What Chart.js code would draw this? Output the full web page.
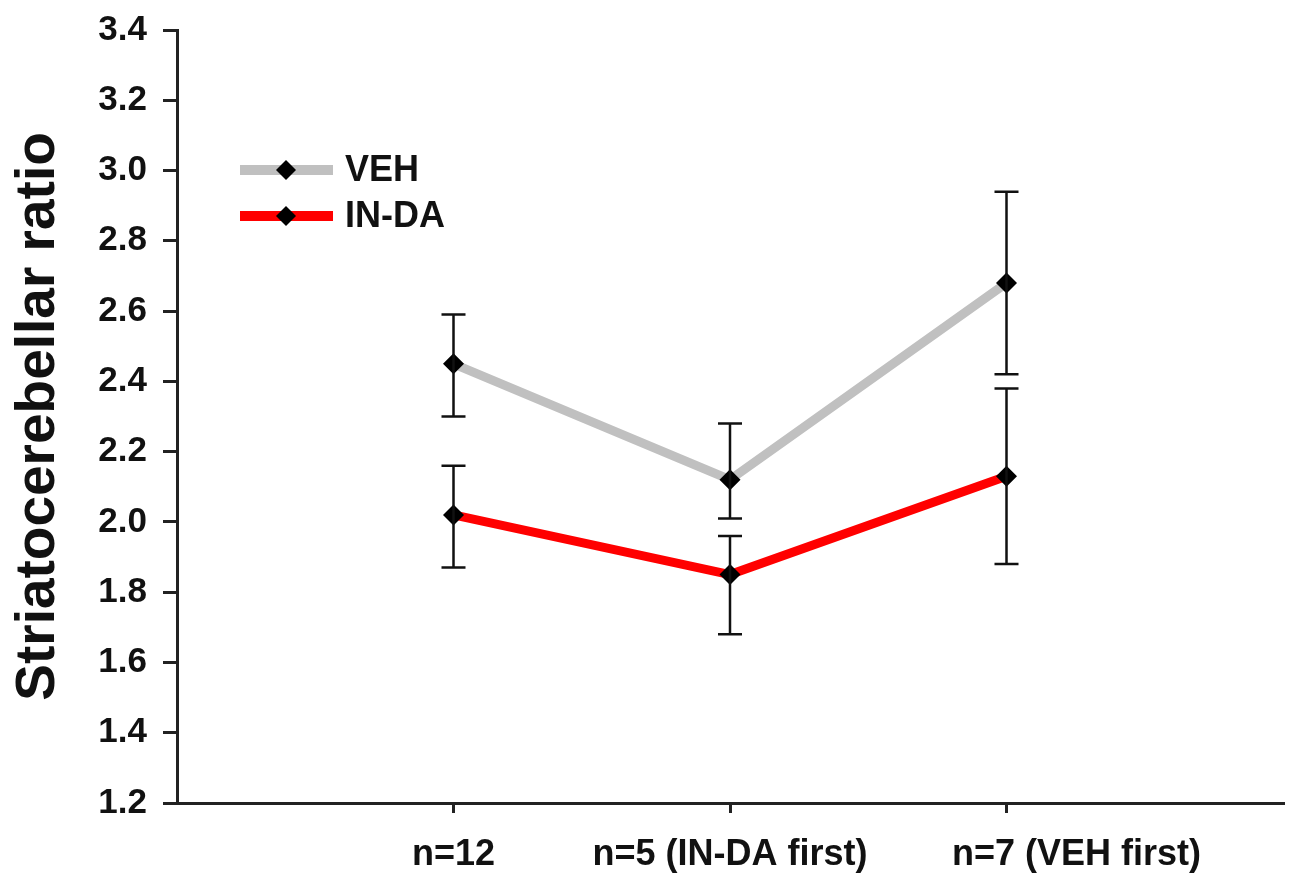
<!DOCTYPE html>
<html>
<head>
<meta charset="utf-8">
<script src="https://cdn.jsdelivr.net/npm/chart.js@4.4.1/dist/chart.umd.min.js"></script>
<style>
  html, body { margin: 0; padding: 0; background: #fff; }
  #wrap { width: 1300px; height: 888px; }
</style>
</head>
<body>
<div id="wrap"><canvas id="myChart" width="1300" height="888"></canvas></div>
<script>
// categories on the x axis
let categories = ['n=12', 'n=5 (IN-DA first)', 'n=7 (VEH first)'];
let yTicks = [1.2, 1.4, 1.6, 1.8, 2.0, 2.2, 2.4, 2.6, 2.8, 3.0, 3.2, 3.4];

// means
let vehValues = [2.45, 2.12, 2.68];
let indaValues = [2.02, 1.85, 2.13];

// error bar ends (upper / lower)
let vehHigh = [2.59, 2.28, 2.94];
let vehLow = [2.30, 2.01, 2.42];
let indaHigh = [2.16, 1.96, 2.38];
let indaLow = [1.87, 1.68, 1.88];

const FONT = '"Liberation Sans", Arial, sans-serif';
const AXIS_COLOR = '#222';
// the last x label sits off to the right of its tick in the original
const X_LABEL_SHIFT = [0, 0, 70];

function toPoints(values) {
    return values.map(function (v, i) {
        return { x: i + 1, y: v };
    });
}

const errorBars = {
    id: 'errorBars',
    afterDatasetsDraw(chart) {
        let ctx = chart.ctx;
        let xs = chart.scales.x;
        let ys = chart.scales.y;
        let sets = [[vehHigh, vehLow], [indaHigh, indaLow]];
        ctx.save();
        ctx.strokeStyle = '#111';
        ctx.lineWidth = 2.5;
        sets.forEach(function (s) {
            s[0].forEach(function (hi, i) {
                let x = xs.getPixelForValue(i + 1);
                let yHi = ys.getPixelForValue(hi);
                let yLo = ys.getPixelForValue(s[1][i]);
                ctx.beginPath();
                ctx.moveTo(x, yHi);
                ctx.lineTo(x, yLo);
                ctx.moveTo(x - 12, yHi);
                ctx.lineTo(x + 12, yHi);
                ctx.moveTo(x - 12, yLo);
                ctx.lineTo(x + 12, yLo);
                ctx.stroke();
            });
        });
        ctx.restore();
    }
};

const shiftLabels = {
    id: 'shiftLabels',
    beforeDraw(chart) {
        let items = chart.scales.x.getLabelItems(chart.chartArea);
        items.forEach(function (it, i) {
            it.options.translation[0] += X_LABEL_SHIFT[i] || 0;
        });
    }
};

const sideLegend = {
    id: 'sideLegend',
    afterDraw(chart) {
        let ctx = chart.ctx;
        ctx.save();
        chart.data.datasets.forEach(function (ds, i) {
            let y = 170 + i * 46;
            ctx.strokeStyle = ds.borderColor;
            ctx.lineWidth = 10;
            ctx.beginPath();
            ctx.moveTo(240, y);
            ctx.lineTo(333, y);
            ctx.stroke();
            ctx.fillStyle = '#000';
            ctx.beginPath();
            ctx.moveTo(286, y - 10);
            ctx.lineTo(296, y);
            ctx.lineTo(286, y + 10);
            ctx.lineTo(276, y);
            ctx.closePath();
            ctx.fill();
            ctx.fillStyle = '#111';
            ctx.font = 'bold 36px ' + FONT;
            ctx.textBaseline = 'middle';
            ctx.textAlign = 'left';
            ctx.fillText(ds.label, 345, y + 1);
        });
        ctx.restore();
    }
};

let ctx = document.getElementById('myChart');
if (ctx !== null) {
    new Chart(ctx, {
        type: 'line',
        data: {
            datasets: [{
                label: 'VEH',
                data: toPoints(vehValues),
                borderColor: '#c0c0c0',
                borderWidth: 9,
                pointStyle: 'rectRot',
                pointRadius: 10.5,
                pointBackgroundColor: '#000',
                pointBorderWidth: 0
            }, {
                label: 'IN-DA',
                data: toPoints(indaValues),
                borderColor: '#ff0000',
                borderWidth: 9,
                pointStyle: 'rectRot',
                pointRadius: 10.5,
                pointBackgroundColor: '#000',
                pointBorderWidth: 0
            }]
        },
        options: {
            responsive: false,
            animation: false,
            devicePixelRatio: 1,
            layout: { padding: { left: 0, right: 17, top: 30, bottom: 0 } },
            plugins: {
                legend: { display: false },
                tooltip: { enabled: false }
            },
            scales: {
                x: {
                    type: 'linear',
                    min: 0,
                    max: 4,
                    afterBuildTicks: function (scale) {
                        scale.ticks = categories.map(function (c, i) { return { value: i + 1 }; });
                    },
                    afterFit: function (scale) {
                        scale.height = 85;
                        scale.paddingLeft = 0;
                        scale.paddingRight = 0;
                    },
                    ticks: {
                        autoSkip: false,
                        maxRotation: 0,
                        padding: 20,
                        color: '#111',
                        font: { family: FONT, size: 36, weight: 'bold' },
                        callback: function (v) { return categories[v - 1]; }
                    },
                    grid: { drawOnChartArea: false, tickLength: 10, color: AXIS_COLOR, lineWidth: 3 },
                    border: { color: AXIS_COLOR, width: 3 }
                },
                y: {
                    min: 1.2,
                    max: 3.4,
                    afterBuildTicks: function (scale) {
                        scale.ticks = yTicks.map(function (v) { return { value: v }; });
                    },
                    afterFit: function (scale) {
                        scale.width = 177;
                        scale.paddingTop = 0;
                        scale.paddingBottom = 0;
                    },
                    ticks: {
                        padding: 16,
                        color: '#111',
                        font: { family: FONT, size: 35, weight: 'bold' },
                        callback: function (v) { return v.toFixed(1); }
                    },
                    grid: { drawOnChartArea: false, tickLength: 14, color: AXIS_COLOR, lineWidth: 3 },
                    border: { color: AXIS_COLOR, width: 3 },
                    title: {
                        display: true,
                        text: 'Striatocerebellar ratio',
                        color: '#111',
                        font: { family: FONT, size: 55, weight: 'bold' },
                        padding: { top: 6, bottom: 0 }
                    }
                }
            }
        },
        plugins: [shiftLabels, errorBars, sideLegend]
    });
}
</script>
</body>
</html>
